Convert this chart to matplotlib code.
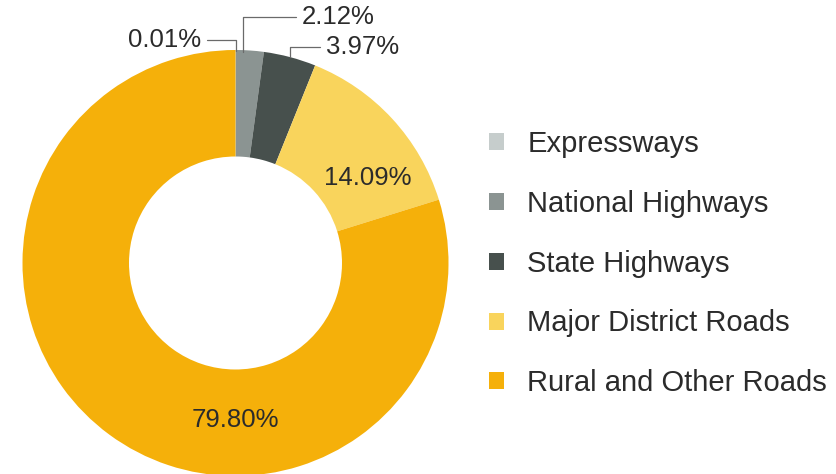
import matplotlib.pyplot as plt
import numpy as np

categories = ['Expressways', 'National Highways', 'State Highways',
              'Major District Roads', 'Rural and Other Roads']
shares = [0.01, 2.12, 3.97, 14.09, 79.80]
colors = ['#c6cdcc', '#8b9492', '#47504d', '#f9d45c', '#f5b00a']

plt.rcParams['font.family'] = ['Liberation Sans', 'DejaVu Sans']
text_color = '#2b2b2b'

fig = plt.figure(figsize=(8.37, 4.74), dpi=100)
ax = fig.add_axes([0, 0, 1, 1])

# pixel layout of the donut: centre (235.5, 263), outer radius 213 px
cx, cy, R = 235.5, 263.0, 213.0
wedges, _ = ax.pie(shares, colors=colors, startangle=90, counterclock=False,
                   radius=1.0, wedgeprops=dict(width=0.5, linewidth=0))

ax.set_xlim(-cx / R, (837 - cx) / R)
ax.set_ylim((cy - 474) / R, cy / R)
ax.set_aspect('equal')
ax.axis('off')


def px(x, y):
    return (x - cx) / R, (cy - y) / R


# labels inside the ring
ax.text(*px(368, 178), f'{shares[3]:.2f}%', ha='center', va='center',
        fontsize=18.5, color=text_color)
ax.text(*px(235, 420), f'{shares[4]:.2f}%', ha='center', va='center',
        fontsize=18.5, color=text_color)

# leader-line labels for the thin slices (anchor px on the rim, text px)
callouts = [
    (0, (236, 51), (201, 40), 'right'),
    (1, (243, 52), (302, 17), 'left'),
    (2, (290, 57), (326, 47), 'left'),
]
for i, anchor, txt, side in callouts:
    relpos = (1, 0.5) if side == 'right' else (0, 0.5)
    ax.annotate(f'{shares[i]:.2f}%', xy=px(*anchor), xytext=px(*txt),
                ha=side, va='center', fontsize=18.5, color=text_color,
                arrowprops=dict(arrowstyle='-', color='#6a6a6a', lw=0.9,
                                connectionstyle='angle,angleA=0,angleB=90,rad=0',
                                relpos=relpos, shrinkA=2, shrinkB=0))

fig.legend(wedges, categories, loc='upper left',
           bbox_to_anchor=(489 / 837, 1 - 130 / 474), frameon=False,
           fontsize=21, borderpad=0, borderaxespad=0,
           handlelength=0.52, handleheight=0.52, handletextpad=0.8,
           labelspacing=1.09, labelcolor=text_color)

fig.savefig('out.png', dpi=100)
